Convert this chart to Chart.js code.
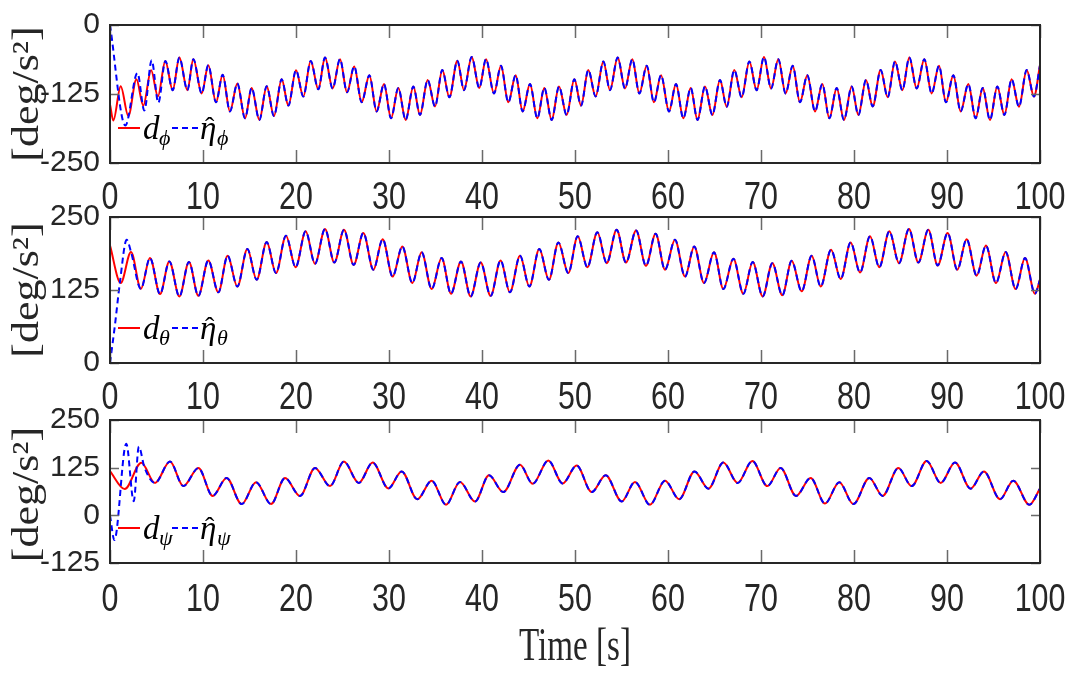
<!DOCTYPE html>
<html>
<head>
<meta charset="utf-8">
<title>Disturbance and estimate</title>
<script src="https://cdn.jsdelivr.net/npm/chart.js@4.4.1/dist/chart.umd.min.js"></script>
<style>
  html, body { margin: 0; padding: 0; background: #fff; }
  #figure { position: relative; width: 1070px; height: 674px; overflow: hidden; background: #fff; }
  #figure canvas { position: absolute; left: 0; }
</style>
</head>
<body>
<div id="figure">
  <canvas id="rollChart" width="1070" height="215" style="top:0px"></canvas>
  <canvas id="pitchChart" width="1070" height="225" style="top:190px"></canvas>
  <canvas id="yawChart" width="1070" height="279" style="top:395px"></canvas>
</div>
<script>
// ---- data (peaks / troughs of each trace) ----

const timeTicks = [0, 10, 20, 30, 40, 50, 60, 70, 80, 90, 100];
const rollTicks = [-250, -125, 0];
const pitchTicks = [0, 125, 250];
const yawTicks = [-125, 0, 125, 250];

// d_phi
const rollTime = [0, 0.36, 1.15, 1.97, 2.84, 3.58, 4.42, 5.15, 5.95, 6.74, 7.46, 8.32, 8.96, 9.86,
  10.57, 11.4, 12.11, 12.9, 13.69, 14.52, 15.23, 16.06, 16.85, 17.63, 18.46, 19.18, 20.0, 20.79,
  21.58, 22.4, 23.12, 23.94, 24.73, 25.49, 26.26, 27.06, 27.89, 28.67, 29.46, 30.22, 31.0, 31.79,
  32.62, 33.33, 34.16, 34.95, 35.73, 36.49, 37.35, 38.06, 38.89, 39.71, 40.43, 41.29, 42.04, 42.83,
  43.62, 44.37, 45.16, 45.95, 46.7, 47.49, 48.28, 49.1, 49.93, 50.65, 51.43, 52.22, 53.05, 53.76,
  54.59, 55.38, 56.16, 56.92, 57.71, 58.49, 59.25, 60.11, 60.86, 61.65, 62.44, 63.17, 63.98, 64.77,
  65.59, 66.31, 67.13, 67.92, 68.75, 69.53, 70.32, 71.08, 71.86, 72.65, 73.41, 74.19, 74.98, 75.81,
  76.59, 77.35, 78.14, 78.92, 79.75, 80.47, 81.29, 82.01, 82.87, 83.62, 84.41, 85.2, 85.95, 86.74,
  87.56, 88.35, 89.14, 89.89, 90.68, 91.47, 92.29, 93.08, 93.84, 94.62, 95.41, 96.17, 96.95, 97.74,
  98.57, 99.35, 100];
const rollDist = [-144, -173, -111, -165, -98.5, -146, -82, -129.5, -65, -118, -59, -118, -62, -124,
  -73, -140, -90, -156.5, -106, -169, -114, -172, -111, -165, -98.5, -146, -82, -129.5,
  -65, -116.5, -59, -115, -62, -122, -75, -140, -91, -156.5, -107, -169, -114, -172,
  -111.5, -163, -99.7, -147.5, -81.6, -131, -64.8, -118, -58, -114, -62, -124, -74, -140,
  -91, -156.5, -107, -169, -114, -172, -111.5, -163, -98.5, -146, -81.6, -129.5, -66, -118,
  -59, -115, -62, -124, -74, -140, -91, -156.5, -107, -169, -114, -172, -111.5, -163,
  -99.7, -148, -81.6, -131, -66, -118, -58, -115, -62, -124, -74, -140, -91, -156.5,
  -107, -169, -114, -172, -111.5, -163, -99.7, -147.5, -81.6, -131, -66, -118, -59, -115,
  -62, -124, -74, -140, -91, -156.5, -107, -169, -114, -172, -111.5, -163, -98.5, -148,
  -81.6, -129.5, -73];
// eta_phi transient, afterwards it sits on d_phi
const rollEstTime = [0, 1.65, 2.95, 3.69, 4.48, 5.2];
const rollEst = [0, -182, -87, -155, -64, -141];
const rollEstJoin = 5.9;

// d_theta
const pitchTime = [0, 1.15, 2.26, 3.32, 4.3, 5.38, 6.38, 7.46, 8.49, 9.5, 10.57, 11.65, 12.65, 13.69,
  14.77, 15.77, 16.85, 17.85, 18.92, 19.96, 21.04, 22.04, 23.12, 24.12, 25.16, 26.2, 27.24, 28.32,
  29.32, 30.39, 31.43, 32.51, 33.51, 34.59, 35.66, 36.67, 37.74, 38.78, 39.86, 40.93, 42.0, 43.0,
  44.09, 45.09, 46.16, 47.2, 48.21, 49.28, 50.29, 51.33, 52.4, 53.41, 54.48, 55.48, 56.57, 57.63,
  58.67, 59.68, 60.75, 61.83, 62.82, 63.87, 64.95, 65.95, 67.03, 68.1, 69.11, 70.18, 71.22, 72.29,
  73.3, 74.37, 75.45, 76.42, 77.53, 78.57, 79.64, 80.65, 81.72, 82.72, 83.8, 84.84, 85.91, 86.92,
  87.99, 89.0, 90.07, 91.11, 92.11, 93.19, 94.19, 95.27, 96.31, 97.38, 98.39, 99.46, 100];
const pitchDist = [201, 137, 190, 127, 180, 118, 174, 114, 173, 115, 175.7, 121, 183.6, 131,
  195, 142.6, 207, 154, 218, 164, 225.4, 170, 229.4, 172, 228, 168, 222.6, 159.7,
  212, 148, 199.7, 137, 189.5, 126.6, 179.7, 118.7, 174, 114, 172, 115, 175.7, 121,
  183.6, 131, 195, 142.6, 206.5, 154, 217, 164, 224, 171, 228, 172, 227, 166.6,
  221.4, 159.7, 211, 148, 199.7, 137, 189.5, 126.6, 178.6, 118.7, 172.9, 114, 171, 116,
  175, 122.7, 183.6, 131, 194, 143.8, 206.5, 155, 217, 164, 225.4, 171, 229.4, 172,
  228, 167, 222.6, 159.7, 212, 149.5, 201, 137, 190, 126.6, 179.7, 118.7, 142.7];
const pitchEstTime = [0, 0.54, 1.08, 1.79];
const pitchEst = [0, 66, 140, 211];
const pitchEstJoin = 2.2;

// d_psi
const yawTime = [0, 1.58, 3.37, 4.84, 6.45, 7.89, 9.5, 11.04, 12.54, 14.16, 15.7, 17.31, 18.82, 20.43,
  22.04, 23.66, 25.15, 26.75, 28.24, 29.93, 31.36, 33.04, 34.59, 36.13, 37.63, 39.25, 40.75, 42.29,
  44.09, 45.45, 47.13, 48.67, 50.18, 51.79, 53.3, 55.02, 56.45, 58.06, 59.68, 61.2, 62.85, 64.34,
  65.95, 67.49, 69.07, 70.68, 72.11, 73.76, 75.34, 76.88, 78.42, 79.93, 81.65, 83.08, 84.77, 86.2,
  87.81, 89.32, 90.86, 92.54, 93.97, 95.7, 97.13, 98.85, 100];
const yawDist = [116, 69, 138, 85, 141, 76.6, 124, 51, 98, 29.5, 87, 29.5, 98, 51,
  124, 76.6, 141, 85, 138.5, 70.6, 115, 42.3, 91, 27.7, 87.7, 36.3, 105, 61,
  132.5, 82.8, 143.7, 83.6, 130.8, 61, 105, 36.3, 87.7, 27.7, 91, 42.3, 115, 70,
  138.5, 85, 142.7, 76.6, 124, 51, 98, 31, 87, 29.5, 98, 51, 124, 76.6,
  142.7, 85, 138.5, 70, 115, 42.3, 91, 27.7, 70];
const yawEstTime = [0, 0.47, 1.75, 2.55, 3.1, 3.7];
const yawEst = [0, -65, 188, 37, 180, 126];
const yawEstJoin = 4.8;

// ---- helpers ----

function toPoints(times, values) {
  return times.map((t, i) => ({ x: t, y: values[i] }));
}

// estimate = its own transient, then the disturbance samples after the join time
function estimatePoints(estTime, est, joinTime, times, values) {
  const pts = toPoints(estTime, est);
  times.forEach((t, i) => {
    if (t >= joinTime) pts.push({ x: t, y: values[i] });
  });
  return pts;
}

const TICK_COLOR = '#262626';

// frame, inward ticks, x tick labels, legend and axis labels (MATLAB look)
const matlabAxes = {
  id: 'matlabAxes',
  afterDatasetsDraw(chart, args, opts) {
    const { ctx, chartArea: a, scales } = chart;
    ctx.save();

    // inward tick marks on all four sides
    ctx.strokeStyle = '#6a6a6a';
    ctx.lineWidth = 1.5;
    ctx.beginPath();
    scales.x.ticks.forEach(t => {
      const px = Math.round(scales.x.getPixelForValue(t.value)) + 0.5;
      ctx.moveTo(px, a.bottom); ctx.lineTo(px, a.bottom - 13);
      ctx.moveTo(px, a.top); ctx.lineTo(px, a.top + 13);
    });
    scales.y.ticks.forEach(t => {
      const py = Math.round(scales.y.getPixelForValue(t.value)) + 0.5;
      ctx.moveTo(a.left, py); ctx.lineTo(a.left + 9, py);
      ctx.moveTo(a.right, py); ctx.lineTo(a.right - 9, py);
    });
    ctx.stroke();

    // box
    ctx.strokeStyle = TICK_COLOR;
    ctx.lineWidth = 2;
    ctx.strokeRect(a.left, a.top, a.right - a.left, a.bottom - a.top);

    // x tick labels: the figure was squeezed sideways, so the digits are narrow
    ctx.fillStyle = TICK_COLOR;
    ctx.font = '38px "Liberation Sans", Arial, sans-serif';
    ctx.textAlign = 'center';
    ctx.textBaseline = 'middle';
    scales.x.ticks.forEach(t => {
      ctx.save();
      ctx.translate(scales.x.getPixelForValue(t.value), a.bottom + opts.labelGap);
      ctx.scale(0.8, 1);
      ctx.fillText(t.label, 0, 0);
      ctx.restore();
    });

    // legend (no box), lower left inside the axes
    const ly = a.bottom - 35;
    const lx = a.left;
    ctx.lineWidth = 2;
    ctx.strokeStyle = '#ff0000';
    ctx.beginPath(); ctx.moveTo(lx + 8, ly); ctx.lineTo(lx + 30, ly); ctx.stroke();
    ctx.strokeStyle = '#0000ff';
    ctx.setLineDash([6, 4]);
    ctx.beginPath(); ctx.moveTo(lx + 62, ly); ctx.lineTo(lx + 88, ly); ctx.stroke();
    ctx.setLineDash([]);

    ctx.fillStyle = '#000';
    ctx.textAlign = 'left';
    ctx.textBaseline = 'alphabetic';
    ctx.font = 'italic 33px "Liberation Serif", "DejaVu Serif", serif';
    ctx.fillText('d', lx + 33, ly + 10.5);
    ctx.fillText('\u03B7', lx + 90, ly + 10.5);
    ctx.font = '28px "Liberation Serif", "DejaVu Serif", serif';
    ctx.fillText('\u02C6', lx + 95, ly + 8);
    ctx.font = 'italic 22px "Liberation Serif", "DejaVu Serif", serif';
    ctx.fillText(opts.sub, lx + 49, ly + 17);
    ctx.fillText(opts.sub, lx + 107, ly + 17);

    // y label, rotated
    ctx.save();
    ctx.translate(38, (a.top + a.bottom) / 2 + (opts.yShift || 0));
    ctx.rotate(-Math.PI / 2);
    ctx.scale(1, 0.85);
    ctx.font = '44px "Liberation Serif", "DejaVu Serif", serif';
    ctx.textAlign = 'center';
    ctx.fillStyle = TICK_COLOR;
    ctx.fillText('[deg/s\u00B2]', 0, 0);
    ctx.restore();

    // x title only on the bottom axes
    if (opts.xTitle) {
      ctx.save();
      ctx.translate((a.left + a.right) / 2, a.bottom + 97);
      ctx.scale(0.72, 1);
      ctx.font = '46px "Liberation Serif", "DejaVu Serif", serif';
      ctx.textAlign = 'center';
      ctx.fillStyle = TICK_COLOR;
      ctx.fillText(opts.xTitle, 0, 0);
      ctx.restore();
    }
    ctx.restore();
  }
};

function createPanel(canvasId, cfg) {
  const ctx = document.getElementById(canvasId).getContext('2d');
  const canvasHeight = ctx.canvas.height;
  return new Chart(ctx, {
    type: 'line',
    data: {
      datasets: [
        {
          label: 'estimate',
          data: cfg.estimate,
          borderColor: '#0000ff',
          borderWidth: 2,
          borderDash: [6, 4],
          pointRadius: 0,
          cubicInterpolationMode: 'monotone',
          order: 1
        },
        {
          label: 'disturbance',
          data: cfg.disturbance,
          borderColor: '#ff0000',
          borderWidth: 2,
          pointRadius: 0,
          cubicInterpolationMode: 'monotone',
          order: 2
        }
      ]
    },
    options: {
      responsive: false,
      animation: false,
      events: [],
      layout: { padding: { top: cfg.top, right: 30, left: 0, bottom: 0 } },
      plugins: {
        legend: { display: false },
        tooltip: { enabled: false },
        matlabAxes: { sub: cfg.sub, xTitle: cfg.xTitle, yShift: cfg.yShift, labelGap: cfg.labelGap }
      },
      scales: {
        x: {
          type: 'linear',
          min: 0,
          max: 100,
          afterBuildTicks: scale => { scale.ticks = timeTicks.map(v => ({ value: v })); },
          afterFit: scale => {
            scale.height = canvasHeight - cfg.bottom;
            scale.paddingLeft = 0;
            scale.paddingRight = 0;
          },
          grid: { display: false, drawTicks: false },
          border: { display: false },
          ticks: { display: false, autoSkip: false, maxRotation: 0 }
        },
        y: {
          type: 'linear',
          min: cfg.yTicks[0],
          max: cfg.yTicks[cfg.yTicks.length - 1],
          afterBuildTicks: scale => { scale.ticks = cfg.yTicks.map(v => ({ value: v })); },
          afterFit: scale => { scale.width = 110; },
          grid: { display: false, drawTicks: false },
          border: { display: false },
          ticks: {
            padding: 10,
            color: TICK_COLOR,
            font: { family: '"Liberation Sans", Arial, sans-serif', size: 30, lineHeight: 1 }
          }
        }
      }
    },
    plugins: [matlabAxes]
  });
}

// roll: canvas top 0, axes 15..163
createPanel('rollChart', {
  disturbance: toPoints(rollTime, rollDist),
  estimate: estimatePoints(rollEstTime, rollEst, rollEstJoin, rollTime, rollDist),
  yTicks: rollTicks, sub: '\u03D5', top: 15, bottom: 163, labelGap: 36
});

// pitch: canvas top 190, axes 217..363
createPanel('pitchChart', {
  disturbance: toPoints(pitchTime, pitchDist),
  estimate: estimatePoints(pitchEstTime, pitchEst, pitchEstJoin, pitchTime, pitchDist),
  yTicks: pitchTicks, sub: '\u03B8', top: 27, bottom: 173, labelGap: 36
});

// yaw: canvas top 395, axes 418..563
createPanel('yawChart', {
  disturbance: toPoints(yawTime, yawDist),
  estimate: estimatePoints(yawEstTime, yawEst, yawEstJoin, yawTime, yawDist),
  yTicks: yawTicks, sub: '\u03C8', top: 23, bottom: 168, labelGap: 38, xTitle: 'Time [s]', yShift: 3
});
</script>
</body>
</html>
